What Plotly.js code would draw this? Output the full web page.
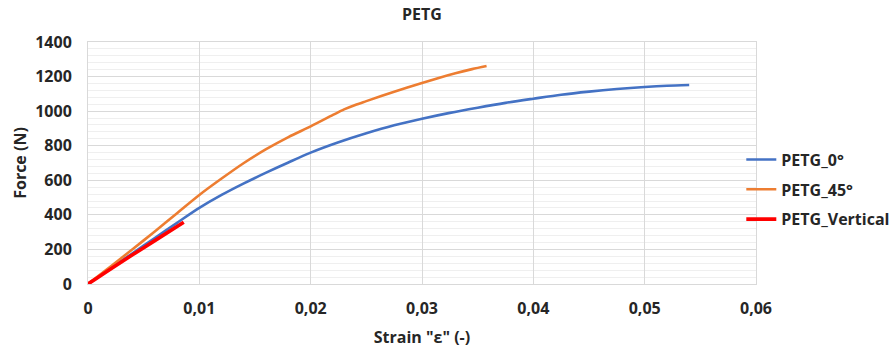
<!DOCTYPE html>
<html>
<head>
<meta charset="utf-8">
<script src="https://cdn.plot.ly/plotly-3.0.1.min.js"></script>
<style>html,body{margin:0;padding:0;background:#fff;}#chart{width:893px;height:351px;}</style>
</head>
<body>
<div id="chart"></div>
<script>
// Data
const strain0 = [0, 0.002, 0.004, 0.006, 0.008, 0.010, 0.012, 0.014, 0.016, 0.018, 0.020, 0.0225, 0.025, 0.0275, 0.030, 0.0325, 0.035, 0.0375, 0.040, 0.0425, 0.045, 0.0475, 0.050, 0.052, 0.054];
const force0  = [0, 89, 178, 266, 354, 440, 515, 582, 644, 703, 760, 820, 872, 918, 956, 990, 1020, 1048, 1072, 1095, 1113, 1128, 1140, 1147, 1151];

const strain45 = [0, 0.002, 0.004, 0.006, 0.008, 0.010, 0.012, 0.014, 0.016, 0.018, 0.020, 0.022, 0.023, 0.024, 0.025, 0.0275, 0.030, 0.0315, 0.033, 0.0345, 0.0358];
const force45  = [0, 100, 201, 304, 410, 515, 610, 700, 780, 850, 912, 978, 1010, 1036, 1058, 1112, 1163, 1192, 1219, 1243, 1261];

const strainV = [0, 0.002, 0.004, 0.006, 0.0086];
const forceV  = [0, 86, 169, 251, 357];

const xTickVals = [0, 0.01, 0.02, 0.03, 0.04, 0.05, 0.06];
const xTickText = ["0", "0,01", "0,02", "0,03", "0,04", "0,05", "0,06"];
const yTickVals = [0, 200, 400, 600, 800, 1000, 1200, 1400];
const yTickText = ["0", "200", "400", "600", "800", "1000", "1200", "1400"];

const FONT = "'Open Sans', Lato, 'Liberation Sans', sans-serif";
const TXT = "#262626";

const traces = [
  {x: strain0, y: force0, name: "PETG_0°", mode: "lines", legendgroup: "a",
   line: {color: "#4472C4", width: 2.6, shape: "spline", smoothing: 0.8}},
  {x: strain45, y: force45, name: "PETG_45°", mode: "lines", legendgroup: "b",
   line: {color: "#ED7D31", width: 2.6, shape: "spline", smoothing: 0.8}},
  {x: strainV, y: forceV, name: "PETG_Vertical", mode: "lines", legendgroup: "c",
   line: {color: "#FF0000", width: 3.6, shape: "spline", smoothing: 0.8}}
];

const layout = {
  width: 893, height: 351,
  margin: {l: 88, r: 137, t: 42, b: 67, autoexpand: false},
  paper_bgcolor: "#ffffff", plot_bgcolor: "#ffffff",
  font: {family: FONT, color: TXT, size: 16, weight: "bold"},
  title: {text: "PETG", x: 0.5, xref: "paper", xanchor: "center", y: 0.96, yanchor: "middle",
          font: {family: FONT, size: 16, weight: "bold", color: TXT}},
  xaxis: {
    range: [0, 0.06], tickvals: xTickVals, ticktext: xTickText,
    showgrid: true, gridcolor: "#d9d9d9", gridwidth: 1,
    zeroline: false, showline: true, linecolor: "#d9d9d9", mirror: true,
    ticks: "", ticklabelstandoff: 10,
    tickfont: {family: FONT, size: 16, weight: "bold", color: TXT},
    title: {text: "Strain \"ε\" (-)", standoff: 13, font: {family: FONT, size: 16, weight: "bold", color: TXT}},
    fixedrange: true
  },
  yaxis: {
    range: [0, 1400], tickvals: yTickVals, ticktext: yTickText,
    showgrid: true, gridcolor: "#d9d9d9", gridwidth: 1,
    minor: {dtick: 40, showgrid: true, gridcolor: "#efefef", gridwidth: 1},
    zeroline: false, showline: true, linecolor: "#d9d9d9", mirror: true,
    ticks: "", ticklabelstandoff: 12,
    tickfont: {family: FONT, size: 16, weight: "bold", color: TXT},
    title: {text: "Force (N)", standoff: 4, font: {family: FONT, size: 16, weight: "bold", color: TXT}},
    fixedrange: true
  },
  showlegend: true,
  legend: {x: 0.978, xanchor: "left", y: 0.39, yanchor: "middle", bgcolor: "rgba(0,0,0,0)",
           traceorder: "grouped", tracegroupgap: 6,
           font: {family: FONT, size: 16, weight: "bold", color: TXT}, itemwidth: 30,
           borderwidth: 0}
};

Plotly.newPlot("chart", traces, layout, {displayModeBar: false, staticPlot: true});
</script>
</body>
</html>
